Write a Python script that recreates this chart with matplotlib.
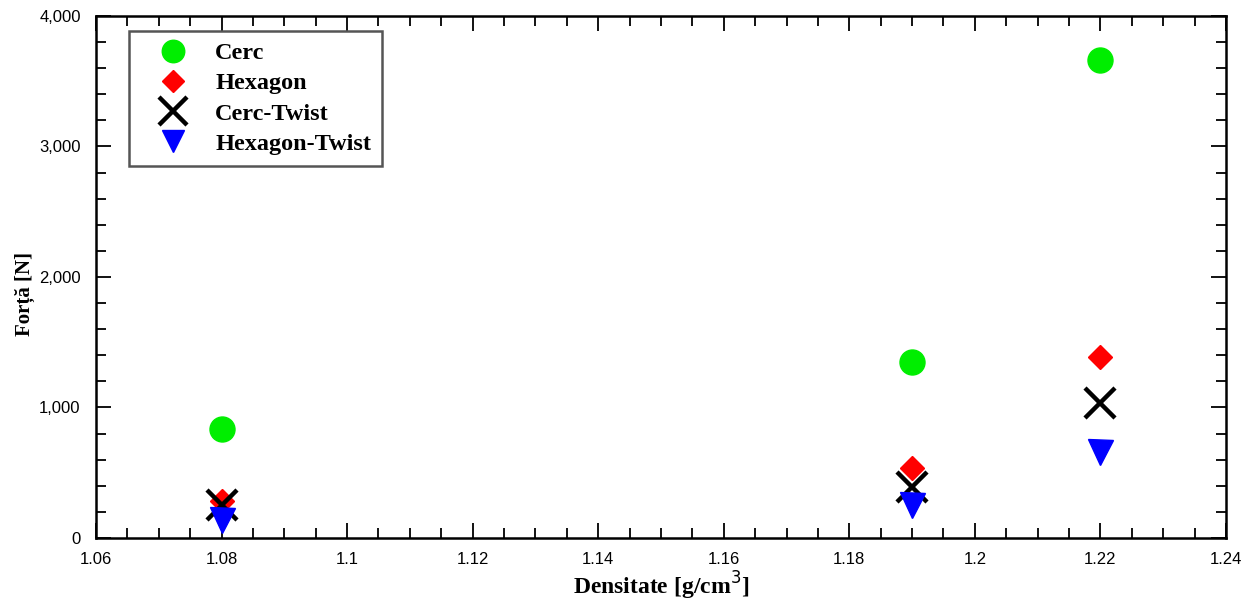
import matplotlib.pyplot as plt
from matplotlib.ticker import MultipleLocator, FuncFormatter

# Data
densitate = [1.08, 1.19, 1.22]
cerc = [835, 1349, 3663]
hexagon = [285, 536, 1387]
cerc_twist = [250, 391, 1034]
hexagon_twist = [140, 253, 659]

fig = plt.figure(figsize=(12.45, 6.03), dpi=100)
ax = fig.add_axes([0.0771, 0.1078, 0.9076, 0.8657])

ax.plot(densitate, cerc, 'o', color='#00ee00', markersize=18, label='Cerc', linestyle='none')
ax.plot(densitate, hexagon, 'D', color='#ff0000', markersize=12, label='Hexagon', linestyle='none')
ax.plot(densitate, cerc_twist, 'x', color='black', markersize=22, markeredgewidth=3.2,
        label='Cerc-Twist', linestyle='none')
ax.plot(densitate, hexagon_twist, 'v', color='#0000ff', markersize=18, label='Hexagon-Twist',
        linestyle='none')

ax.set_xlim(1.06, 1.24)
ax.set_ylim(0, 4000)
ax.xaxis.set_major_locator(MultipleLocator(0.02))
ax.xaxis.set_minor_locator(MultipleLocator(0.005))
ax.yaxis.set_major_locator(MultipleLocator(1000))
ax.yaxis.set_minor_locator(MultipleLocator(200))
ax.xaxis.set_major_formatter(FuncFormatter(lambda v, p: f'{v:.2f}'.rstrip('0').rstrip('.')))
ax.yaxis.set_major_formatter(FuncFormatter(lambda v, p: f'{int(v):,}'))

ax.tick_params(which='both', direction='in', top=True, right=True, width=1.3,
               labelsize=12, colors='black')
ax.tick_params(which='major', length=11)
ax.tick_params(which='minor', length=7)
ax.tick_params(axis='x', which='major', pad=10)
ax.tick_params(axis='y', which='major', pad=11)
for lab in ax.get_xticklabels() + ax.get_yticklabels():
    lab.set_fontfamily('Liberation Sans')
for s in ax.spines.values():
    s.set_linewidth(1.8)

ax.set_xlabel('Densitate [g/cm$^3$]', fontfamily='Liberation Serif', fontweight='bold',
              fontsize=17)
ax.set_ylabel('Forță [N]', fontfamily='Liberation Serif', fontweight='bold', fontsize=15)
ax.xaxis.set_label_coords(0.5, -0.061)
ax.yaxis.set_label_coords(-0.054, 0.467)

leg = ax.legend(loc='upper left', bbox_to_anchor=(0.029, 0.971), borderaxespad=0,
                prop={'family': 'Liberation Serif', 'weight': 'bold', 'size': 17.5},
                fancybox=False, edgecolor='#555555', framealpha=1, labelspacing=0.34,
                handletextpad=0.4, borderpad=0.45, handlelength=2.7, markerscale=0.9)
leg.get_frame().set_linewidth(1.8)

fig.savefig('out.png', dpi=100)
